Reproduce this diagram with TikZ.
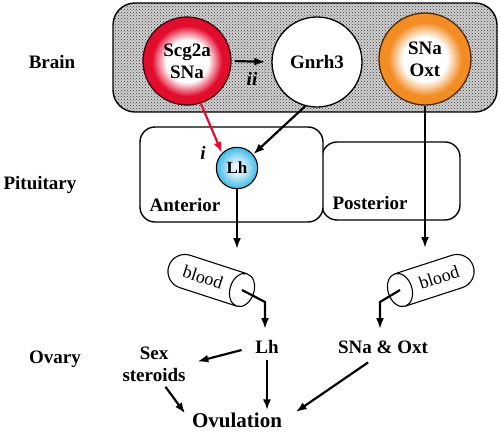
\documentclass[tikz,border=0pt]{standalone}
\usepackage{fontspec}
\setmainfont{Liberation Serif}
\usetikzlibrary{arrows.meta,patterns}
\definecolor{ringred}{RGB}{226,12,45}
\definecolor{ringorange}{RGB}{242,140,35}
\definecolor{lhblue}{RGB}{60,185,230}
\pgfdeclareradialshading{redring}{\pgfpoint{0bp}{0bp}}{color(0bp)=(white); color(12bp)=(white); color(20bp)=(ringred); color(50bp)=(ringred)}
\pgfdeclareradialshading{orangering}{\pgfpoint{0bp}{0bp}}{color(0bp)=(white); color(12bp)=(white); color(20bp)=(ringorange); color(50bp)=(ringorange)}
\pgfdeclareradialshading{lhglow}{\pgfpoint{0bp}{0bp}}{color(0bp)=(white); color(9bp)=(lhblue!25); color(25bp)=(lhblue); color(50bp)=(lhblue)}
\tikzset{
  arr/.style={-{Latex[length=11pt,width=8pt]}, line width=2.2pt},
  lbl/.style={font=\bfseries},
  cell/.style={circle, draw, line width=1.3pt, align=center, font=\bfseries},
  lobe/.style={draw, line width=1.4pt, rounded corners=15pt, fill=white}
}
\begin{document}
\begin{tikzpicture}[x=1pt,y=1pt]
				\fontsize{19}{22}\selectfont
				\useasboundingbox (0,0) rectangle (500,-431);
				\coordinate (vesL) at (242,-290);
				\coordinate (vesR) at (400,-290);
				\coordinate (bendL) at (265,-302);
				\coordinate (bendR) at (380,-302);
				\coordinate (tipL) at (265,-329);
				\coordinate (tipR) at (380,-329);
				\coordinate (tipA) at (237,-249);
				\coordinate (tipP) at (425,-248);
				\fill[gray!35, rounded corners=22pt] (113,-3) rectangle (497,-112);
				\fill[pattern=crosshatch dots, pattern color=black!80, rounded corners=22pt] (113,-3) rectangle (497,-112);
				\draw[line width=1.4pt, rounded corners=22pt] (113,-3) rectangle (497,-112);
				\draw[lobe] (322,-142) rectangle (460,-220);
				\draw[lobe] (140,-127) rectangle (323,-222);
				\node[lbl] (brain) at (52,-62) {Brain};
				\node[lbl] (pit) at (40,-185) {Pituitary};
				\node[lbl] (ovary) at (55,-359) {Ovary};
				\node[cell, minimum size=88pt, shading=redring, draw=black!70!ringred] (scg) at (187,-61) {Scg2a\\SNa};
				\node[cell, minimum size=90pt, fill=white] (gnrh) at (317,-62) {Gnrh3};
				\node[cell, minimum size=92pt, shading=orangering, draw=black!70!ringorange] (oxt) at (425,-59) {SNa\\Oxt};
				\node[cell, minimum size=41pt, shading=lhglow, line width=1.1pt, font=\bfseries\fontsize{17}{19}\selectfont] (lh) at (237,-168) {Lh};
				\node[lbl] (ant) at (185,-205) {Anterior};
				\node[lbl] (post) at (370,-203) {Posterior};
				\node[lbl, font=\bfseries\itshape] (ii) at (252,-79) {ii};
				\node[lbl, font=\bfseries\itshape] (i) at (203,-153) {i};
				\node[lbl, inner sep=2pt] (lhO) at (267,-347) {Lh};
				\node[lbl, inner sep=2pt] (snaoxt) at (383,-347) {SNa \& Oxt};
				\node[lbl, inner sep=2pt, align=center] (sex) at (154,-364) {Sex\\steroids};
				\node[lbl, inner sep=2pt, font=\bfseries\fontsize{21}{24}\selectfont] (ovul) at (237,-420) {Ovulation};
				\begin{scope}[shift={(vesL)}, rotate=-18]
					\draw[line width=1.1pt, fill=white] (0,17) -- (-60,17) arc[start angle=90, end angle=270, radius=17] -- (0,-17);
					\draw[line width=1.1pt, fill=white] (0,0) ellipse[x radius=12, y radius=17];
					\node[rotate=-18, inner sep=0pt, font=\fontsize{18}{20}\selectfont] (bloodL) at (-41,0) {blood};
				\end{scope}
				\begin{scope}[shift={(vesR)}, rotate=18]
					\draw[line width=1.1pt, fill=white] (0,17) -- (60,17) arc[start angle=90, end angle=-90, radius=17] -- (0,-17);
					\draw[line width=1.1pt, fill=white] (0,0) ellipse[x radius=12, y radius=17];
					\node[rotate=18, inner sep=0pt, font=\fontsize{18}{20}\selectfont] (bloodR) at (41,0) {blood};
				\end{scope}
				\draw[arr, shorten <=3pt, shorten >=6pt] (scg.east) -- (gnrh.west);
				\draw[arr, ringred] (scg.-72) -- (lh.135);
				\draw[arr] (gnrh.-105) -- (lh.40);
				\draw[arr] (lh.south) -- (tipA);
				\draw[arr] (oxt.south) -- (tipP);
				\draw[arr] (vesL) -- (bendL) -- (tipL);
				\draw[arr] (vesR) -- (bendR) -- (tipR);
				\draw[arr, shorten <=12pt, shorten >=10pt] (lhO.west) -- (sex.east);
				\draw[arr, shorten <=4pt] (lhO.south) -- (lhO.south |- ovul.north);
				\draw[arr, shorten <=4pt, shorten >=8pt] (sex.-65) -- (ovul.west);
				\draw[arr, shorten <=12pt, shorten >=14pt] (snaoxt.-120) -- (ovul.east);
			\end{tikzpicture}
\end{document}
